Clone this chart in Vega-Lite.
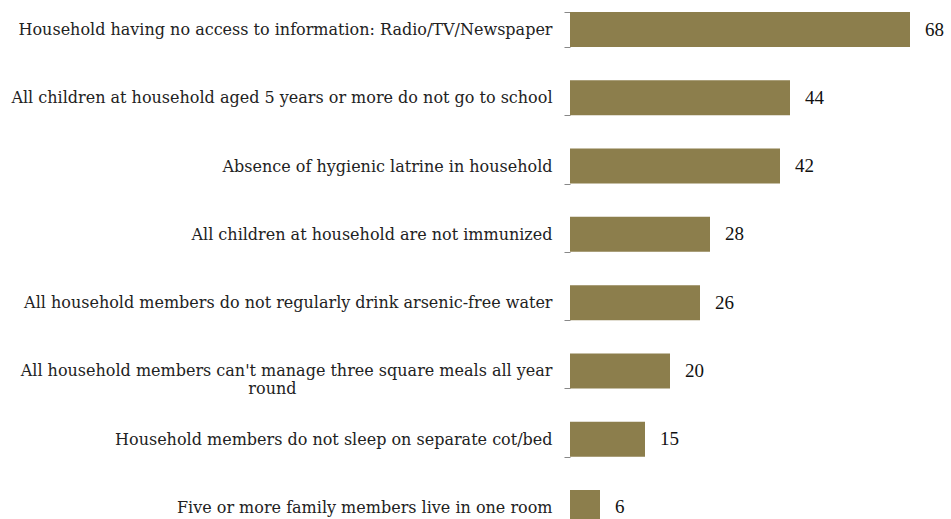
{
  "$schema": "https://vega.github.io/schema/vega-lite/v6.json",
  "autosize": "none",
  "padding": {"left": 570, "top": 0, "right": 0, "bottom": 0},
  "width": 381,
  "height": 537,
  "background": "white",
  "config": {"view": {"stroke": null}, "font": "Liberation Serif"},
  "data": {"values": [
    {"indicator": "Household having no access to information: Radio/TV/Newspaper", "value": 68},
    {"indicator": "All children at household aged 5 years or more do not go to school", "value": 44},
    {"indicator": "Absence of hygienic latrine in household", "value": 42},
    {"indicator": "All children at household are not immunized", "value": 28},
    {"indicator": "All household members do not regularly drink arsenic-free water", "value": 26},
    {"indicator": "All household members can't manage three square meals all year|round", "value": 20},
    {"indicator": "Household members do not sleep on separate cot/bed", "value": 15},
    {"indicator": "Five or more family members live in one room", "value": 6}
  ]},
  "encoding": {
    "y": {
      "field": "indicator", "type": "nominal", "sort": null,
      "scale": {"paddingInner": 0.4875, "paddingOuter": 0.176},
      "axis": {
        "title": null, "domain": false, "ticks": true, "tickBand": "extent",
        "tickColor": "#888888", "tickSize": 6, "labelPadding": 12,
        "labelFont": "DejaVu Serif", "labelFontSize": 16, "labelColor": "#222222",
        "labelLimit": 600, "labelLineHeight": 18,
        "labelExpr": "indexof(datum.label, '|') > 0 ? [split(datum.label, '|')[0], split(datum.label, '|')[1] + '\u2003\u2003\u2003\u2003\u2003\u2003\u2003\u2003\u2003\u2003\u2003\u2003\u2003\u2003\u2003\u2003\u200b'] : datum.label"
      }
    },
    "x": {
      "field": "value", "type": "quantitative",
      "scale": {"domain": [0, 76.2], "nice": false},
      "axis": null
    }
  },
  "layer": [
    {"mark": {"type": "bar", "color": "#8C7E4C"}},
    {
      "mark": {"type": "text", "align": "left", "baseline": "middle", "dx": 15, "font": "Liberation Serif", "fontSize": 19, "color": "#111111"},
      "encoding": {"text": {"field": "value", "type": "quantitative"}}
    }
  ]
}
